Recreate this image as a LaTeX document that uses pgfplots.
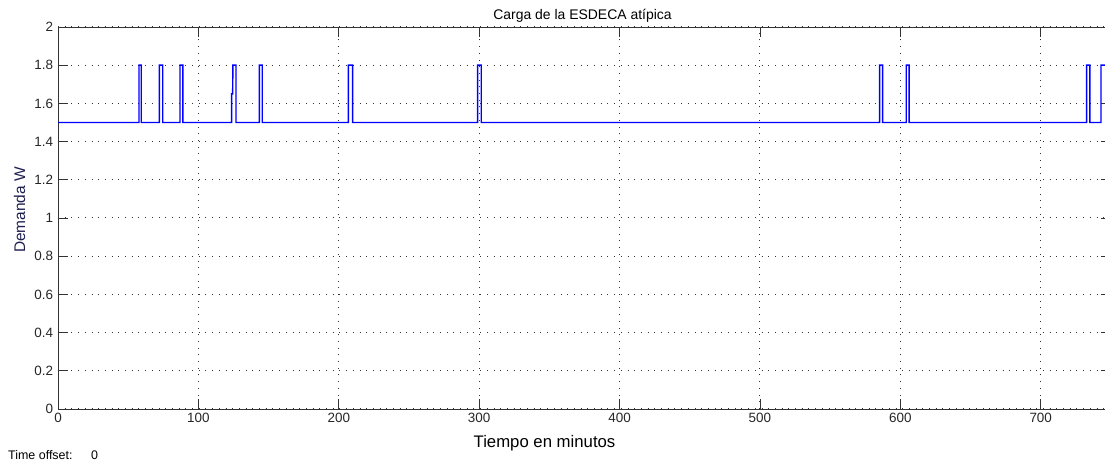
\documentclass[border=0pt]{standalone}
\usepackage{pgfplots}
\pgfplotsset{compat=1.18}
\usepackage{fontspec}
\setmainfont{Liberation Sans}
\begin{document}
\begin{tikzpicture}[x=1bp,y=1bp]
\path[use as bounding box] (0,0) rectangle (1105,465);
\clip (0,0) rectangle (1105,465);
\begin{axis}[
  at={(58bp,56bp)}, anchor=south west,
  scale only axis, width=1053bp, height=382bp,
  xmin=0, xmax=750, ymin=0, ymax=2,
  xtick={0,100,200,300,400,500,600,700},
  ytick={0,0.2,0.4,0.6,0.8,1,1.2,1.4,1.6,1.8,2},
  yticklabels={0,0.2,0.4,0.6,0.8,1,1.2,1.4,1.6,1.8,2},
  tick align=inside,
  major tick length=10bp,
  tick style={black!80, line width=0.8bp},
  axis line style={black!80, line width=0.8bp},
  grid=major,
  major grid style={black!80, line width=1bp, dash pattern=on 1bp off 5.7bp},
  ticklabel style={font=\fontsize{13.5}{16}\selectfont, text=black!85},
  /pgf/number format/assume math mode=true,
  yticklabel style={xshift=-1.5bp},
  xticklabel style={yshift=-1bp},
]
\addplot[color={rgb,255:red,0;green,0;blue,255}, line width=1.4bp, mark=none] coordinates {
(0,1.5)
(57.7,1.5)(57.7,1.8)(59.3,1.8)(59.3,1.5)
(72.2,1.5)(72.2,1.8)(74.6,1.8)(74.6,1.5)
(86.9,1.5)(86.9,1.8)(89.0,1.8)(89.0,1.5)
(123.7,1.5)(123.7,1.65)(124.4,1.65)(124.6,1.8)(126.8,1.8)(126.8,1.5)
(143.4,1.5)(143.4,1.8)(145.5,1.8)(145.5,1.5)
(206.8,1.5)(206.8,1.8)(209.9,1.8)(209.9,1.5)
(298.9,1.5)(298.9,1.8)(301.5,1.8)(301.5,1.5)
(585.2,1.5)(585.2,1.8)(587.4,1.8)(587.4,1.5)
(604.2,1.5)(604.2,1.8)(606.3,1.8)(606.3,1.5)
(732.7,1.5)(732.7,1.8)(735.0,1.8)(735.0,1.5)
(742.9,1.5)(742.9,1.8)(750,1.8)
};
\end{axis}
\node[anchor=base, font=\fontsize{14}{16}\selectfont] at (582.5,445) {Carga de la ESDECA atípica};
\node[anchor=base, font=\fontsize{16.8}{19}\selectfont] at (544.5,17) {Tiempo en minutos};
\node[anchor=base, rotate=90, font=\fontsize{15.5}{18}\selectfont, text={rgb,255:red,30;green,30;blue,80}] at (25,255) {Demanda W};
\node[anchor=base west, inner sep=0pt, font=\fontsize{12.5}{15}\selectfont] at (8,5) {Time offset:};
\node[anchor=base west, inner sep=0pt, font=\fontsize{12.5}{15}\selectfont] at (91,5) {0};
\end{tikzpicture}
\end{document}
